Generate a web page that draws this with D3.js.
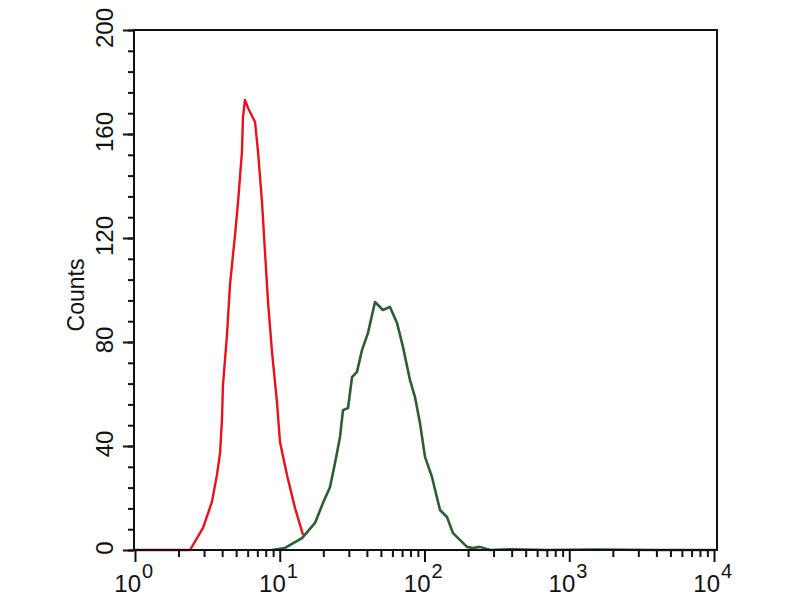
<!DOCTYPE html>
<html>
<head>
<meta charset="utf-8">
<script src="https://cdn.jsdelivr.net/npm/d3@7"></script>
<style>
  html, body { margin: 0; padding: 0; background: #fff; }
  svg { display: block; }
  text { font-family: "Liberation Sans", Arial, sans-serif; fill: #111; }
</style>
</head>
<body>
<svg id="chart" width="800" height="600"></svg>
<script>
// ---- data ----
const yTickValues = [0, 40, 80, 120, 160, 200];
const xDecades = [0, 1, 2, 3, 4];
const yLabel = "Counts";

// isotype control (red)
const redIntensity = [1.0, 2.40, 2.95, 3.40, 3.68, 3.87, 3.99, 4.05, 4.32, 4.53, 4.91, 5.15, 5.48, 5.57, 5.75, 6.04, 6.75, 7.08, 7.54, 7.91, 8.30, 8.84, 9.57, 10.04, 11.22, 12.74, 14.48];
const redCounts    = [0,   0,    8.5,  18.5, 28.8, 37.3, 50.4, 63.1, 82.7, 101.9, 121.2, 133.8, 153.1, 166.2, 173.1, 170, 164.6, 153.1, 133.8, 114.6, 95.4, 76.2, 56.9, 41.5, 28.8, 16.2, 5.8];

// antibody stained (green)
const greenIntensity = [8.84, 10.87, 14.25, 17.53, 19.89, 22.25, 24.09, 26.08, 27.35, 29.63, 31.57, 34.17, 37.00, 40.71, 45.50, 51.67, 57.75, 64.57, 71.03, 79.35, 85.95, 93.05, 100.8, 112.6, 128.0, 143.0, 157.3, 196.6, 216.3, 241.8, 283.6, 400, 700, 1500, 4000, 10000];
const greenCounts    = [0,    0.8,   4.6,   10.4,  18.1,  24.2,  33.5,  43.5,  53.8,  54.6,  66.5,  68.5,  76.9,  83.5,  95.4,  92.3,  93.5,  87.3,  78.1,  65.4,  58.8,  48.8,  35.8,  28.1,  15.4,  12.7,  6.5,   1.2,   0.8,   1.2,   0,     0.3, 0,   0.2,  0,    0];

// ---- layout ----
const plotL = 134, plotR = 717, plotT = 30, plotB = 550;
const svg = d3.select("#chart");

const x = d3.scaleLog().domain([1, 1e4]).range([135, 714]);
const y = d3.scaleLinear().domain([0, 200]).range([plotB, plotT]);

const redData = redIntensity.map((v, i) => [v, redCounts[i]]);
const greenData = greenIntensity.map((v, i) => [v, greenCounts[i]]);

const line = d3.line().x(d => x(d[0])).y(d => y(d[1]));

// curves
svg.append("path").datum(redData)
  .attr("d", line).attr("fill", "none")
  .attr("stroke", "#e8121c").attr("stroke-width", 2.4)
  .attr("stroke-linejoin", "round");
svg.append("path").datum(greenData)
  .attr("d", line).attr("fill", "none")
  .attr("stroke", "#2c5e34").attr("stroke-width", 2.6)
  .attr("stroke-linejoin", "round");

// frame
svg.append("rect")
  .attr("x", plotL).attr("y", plotT)
  .attr("width", plotR - plotL).attr("height", plotB - plotT)
  .attr("fill", "none").attr("stroke", "#111").attr("stroke-width", 2);

// y axis ticks
const yMinor = d3.range(0, 201, 8);
svg.append("g").attr("transform", `translate(${plotL},0)`)
  .call(d3.axisLeft(y).tickValues(yMinor).tickSize(6).tickFormat(""))
  .call(g => g.select(".domain").remove())
  .call(g => g.selectAll("line").attr("stroke", "#111").attr("stroke-width", 2));
svg.append("g").attr("transform", `translate(${plotL},0)`)
  .call(d3.axisLeft(y).tickValues(yTickValues).tickSize(11).tickFormat(""))
  .call(g => g.select(".domain").remove())
  .call(g => g.selectAll("line").attr("stroke", "#111").attr("stroke-width", 2));

// y tick labels (rotated)
svg.selectAll(".ylab").data(yTickValues).enter().append("text")
  .attr("class", "ylab")
  .attr("transform", d => `translate(113,${y(d) - 2}) rotate(-90)`)
  .attr("text-anchor", "middle")
  .attr("font-size", 24)
  .text(d => d);

// y axis title
svg.append("text")
  .attr("transform", `translate(84,295) rotate(-90)`)
  .attr("text-anchor", "middle")
  .attr("font-size", 23)
  .text(yLabel);

// x axis ticks
const xMinor = [];
xDecades.slice(0, -1).forEach(e => { for (let m = 2; m <= 9; m++) xMinor.push(m * Math.pow(10, e)); });
const xMajor = xDecades.map(e => Math.pow(10, e));
svg.append("g").attr("transform", `translate(0,${plotB})`)
  .call(d3.axisBottom(x).tickValues(xMinor).tickSize(7).tickFormat(""))
  .call(g => g.select(".domain").remove())
  .call(g => g.selectAll("line").attr("stroke", "#111").attr("stroke-width", 2));
svg.append("g").attr("transform", `translate(0,${plotB})`)
  .call(d3.axisBottom(x).tickValues(xMajor).tickSize(12).tickFormat(""))
  .call(g => g.select(".domain").remove())
  .call(g => g.selectAll("line").attr("stroke", "#111").attr("stroke-width", 2));

// x tick labels 10^n
const xl = svg.selectAll(".xlab").data(xDecades).enter().append("g")
  .attr("class", "xlab")
  .attr("transform", d => `translate(${x(Math.pow(10, d))},0)`);
xl.append("text")
  .attr("x", 6).attr("y", 592)
  .attr("text-anchor", "end")
  .attr("font-size", 24)
  .text("10");
xl.append("text")
  .attr("x", 7).attr("y", 578)
  .attr("text-anchor", "start")
  .attr("font-size", 20)
  .text(d => d);
</script>
</body>
</html>
